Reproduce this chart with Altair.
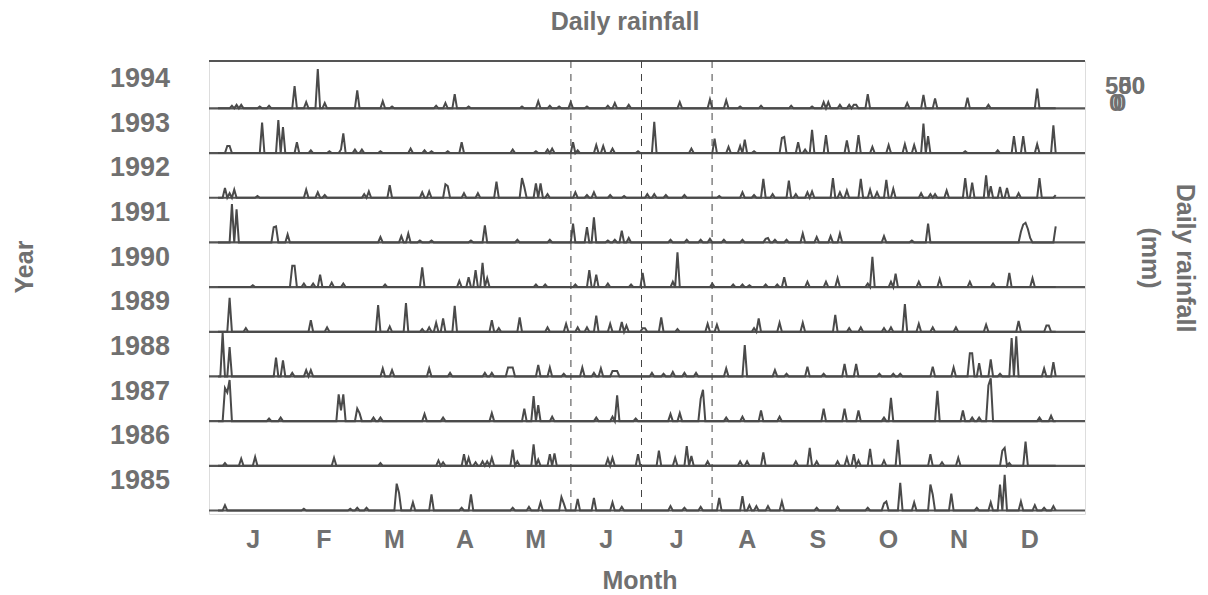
import altair as alt
import pandas as pd

# Daily rainfall (mm) per year, listed as (day of year, mm); unlisted days are dry.
rain_1994 = [(6,3),(8,4),(10,4),(18,2),(22,3),(33,25),(38,7),(43,44),(46,6),(60,20),(71,8),(75,2),
             (94,3),(98,6),(102,16),(108,2),(131,2),(138,8),(143,3),(147,2),(152,7),(159,2),(168,3),
             (171,6),(177,4),(199,7),(212,10),(219,9),(225,2),(234,3),(247,3),(256,2),(261,7),(263,7),
             (268,4),(272,4),(274,4),(275,4),(280,16),(297,6),(304,15),(309,11),(323,12),(332,4),(353,22)]
rain_1993 = [(4,8),(5,8),(19,34),(26,37),(28,29),(34,12),(40,3),(48,2),(53,4),(54,22),(59,4),(62,4),
             (70,2),(83,5),(89,3),(92,2),(99,2),(105,12),(127,4),(137,2),(142,4),(144,5),(153,12),(155,3),
             (163,9),(166,8),(170,5),(181,2),(188,35),(204,5),(214,16),(220,7),(225,8),(227,15),(231,2),
             (243,17),(244,18),(250,12),(253,4),(256,26),(262,20),(271,14),(276,20),(282,7),(289,9),
             (296,10),(300,9),(304,33),(306,19),(322,2),(336,3),(343,19),(347,19),(353,10),(360,31)]
rain_1992 = [(3,11),(5,5),(7,9),(17,2),(38,9),(43,6),(46,3),(63,4),(65,7),(74,14),(88,6),(91,7),(98,15),
             (99,13),(106,5),(112,5),(120,18),(131,22),(132,12),(137,16),(139,16),(142,4),(154,6),(159,3),
             (162,6),(169,3),(175,2),(185,4),(188,4),(193,3),(201,3),(216,2),(226,6),(231,3),(235,21),
             (239,4),(246,19),(249,4),(254,6),(256,7),(265,22),(268,6),(271,8),(277,21),(281,9),(284,6),
             (288,20),(291,10),(303,5),(307,4),(309,4),(314,8),(322,22),(325,17),(331,25),(333,13),
             (337,12),(340,11),(345,5),(354,22),(361,3)]
rain_1991 = [(6,43),(8,37),(24,17),(25,18),(30,9),(70,6),(79,7),(82,10),(87,2),(92,2),(109,2),(115,19),
             (129,3),(143,3),(153,21),(159,17),(162,28),(168,2),(171,3),(174,13),(177,5),(195,3),(202,3),
             (208,3),(212,4),(218,3),(226,3),(236,4),(237,5),(240,3),(245,3),(252,10),(258,6),(264,7),
             (268,10),(287,7),(299,2),(306,21),(346,12),(347,20),(348,22),(349,15),(350,5),(361,18)]
rain_1990 = [(15,2),(32,24),(33,24),(37,4),(41,4),(44,14),(49,5),(54,4),(72,3),(88,22),(104,7),(108,11),
             (111,19),(114,27),(116,10),(137,3),(141,3),(154,3),(160,19),(163,14),(168,4),(178,3),(183,16),
             (196,6),(198,39),(213,4),(222,3),(226,3),(229,2),(236,3),(241,3),(244,11),(254,6),(262,6),
             (267,10),(280,4),(282,34),(290,6),(292,15),(302,6),(311,9),(324,6),(334,4),(341,16),(351,10)]
rain_1989 = [(5,38),(12,4),(40,13),(47,5),(69,30),(74,6),(81,32),(88,3),(91,5),(94,10),(97,15),(102,29),
             (118,13),(121,4),(130,16),(142,5),(150,9),(155,5),(159,5),(163,18),(169,9),(174,11),(176,7),
             (183,4),(184,4),(191,16),(198,3),(211,9),(215,8),(231,4),(233,15),(242,10),(252,10),(266,19),
             (272,4),(277,5),(287,4),(290,5),(296,31),(302,9),(308,5),(318,5),(331,8),(345,12),(357,7),(358,7)]
rain_1988 = [(2,49),(5,33),(25,21),(28,18),(32,4),(38,7),(40,7),(71,9),(75,7),(91,9),(100,4),(115,4),
             (118,4),(125,10),(126,10),(127,10),(138,13),(143,10),(149,3),(157,10),(162,4),(165,9),(170,6),
             (171,6),(172,6),(187,4),(192,3),(196,5),(201,4),(206,4),(219,9),(227,35),(240,7),(245,3),
             (254,11),(261,3),(270,14),(275,14),(285,3),(291,3),(294,3),(308,11),(317,10),(324,26),(325,26),
             (328,15),(333,19),(337,3),(342,43),(344,45),(356,9),(360,16)]
rain_1987 = [(3,37),(4,32),(5,46),(22,3),(27,4),(52,30),(53,12),(54,30),(60,14),(61,9),(67,4),(70,4),
             (89,8),(97,4),(118,9),(132,14),(136,28),(138,18),(144,5),(163,4),(170,5),(172,29),(180,3),
             (195,8),(199,9),(208,25),(209,35),(219,4),(226,5),(234,12),(242,5),(261,14),(270,14),(276,12),
             (287,4),(290,26),(310,34),(321,12),(325,4),(328,4),(332,40),(333,48),(354,4),(359,6)]
rain_1986 = [(3,3),(10,8),(16,10),(50,9),(70,3),(95,6),(97,4),(106,13),(108,9),(111,4),(114,5),(116,5),
             (118,9),(127,18),(129,5),(136,24),(138,7),(143,13),(145,14),(168,8),(170,9),(181,13),(190,17),
             (197,9),(202,22),(204,11),(211,5),(225,5),(228,5),(235,15),(249,5),(255,20),(258,5),(267,5),
             (271,9),(274,13),(276,6),(281,19),(287,6),(293,29),(307,13),(312,4),(319,9),(338,17),(339,20),
             (341,3),(348,27)]
rain_1985 = [(3,6),(37,2),(57,2),(60,3),(64,3),(77,30),(78,20),(84,9),(92,18),(105,3),(109,18),(127,3),
             (134,4),(139,9),(148,15),(149,8),(155,13),(162,14),(170,9),(174,4),(195,5),(201,3),(208,4),
             (216,14),(226,16),(229,6),(232,5),(237,5),(243,10),(258,3),(267,4),(280,3),(287,8),(288,10),
             (294,31),(300,9),(307,29),(308,18),(316,19),(327,3),(333,9),(337,29),(339,40),(346,10),
             (352,6),(356,3),(360,5)]

years = [1985, 1986, 1987, 1988, 1989, 1990, 1991, 1992, 1993, 1994]
series = [rain_1985, rain_1986, rain_1987, rain_1988, rain_1989,
          rain_1990, rain_1991, rain_1992, rain_1993, rain_1994]
months = ["J", "F", "M", "A", "M", "J", "J", "A", "S", "O", "N", "D"]
last_day = 361

MONTH_LEN = 365 / 12
ROW_SPAN = 50          # mm of vertical room given to each year's trace

rows = []
for i, (yr, peaks) in enumerate(zip(years, series)):
    wet = dict(peaks)
    for d in range(0, last_day + 1):
        rows.append({"year": yr, "row": i, "day": d, "rain": wet.get(d, 0)})
daily = pd.DataFrame(rows)

year_df = pd.DataFrame({"year": [str(y) for y in years], "row": list(range(len(years)))})
month_df = pd.DataFrame({"m": months, "k": list(range(12))})
dash_df = pd.DataFrame({"k": [5, 6, 7]})

W, H = 876, 453
GREY = "#555555"
TXT = "#707070"
FONT = "Liberation Sans"

xs = alt.Scale(domain=[-3.88, 373.62], nice=False, zero=False)
ys = alt.Scale(domain=[-3.9, 503], nice=False, zero=False)

traces = alt.Chart(daily).transform_calculate(
    level=f"datum.row * {ROW_SPAN} + datum.rain"
).mark_line(color="#4a4a4a", strokeWidth=2, interpolate="linear").encode(
    x=alt.X("day:Q", scale=xs,
            axis=alt.Axis(values=[k * MONTH_LEN for k in range(13)], labels=False, title=None,
                          grid=False, tickSize=7, tickWidth=2, tickColor=GREY,
                          domainWidth=4, domainColor=GREY)),
    y=alt.Y("level:Q", scale=ys,
            axis=alt.Axis(values=[r * ROW_SPAN for r in range(10)], labels=False, title=None,
                          grid=False, tickSize=8, tickWidth=2, tickColor=GREY,
                          domainWidth=7, domainColor=GREY)),
    detail="year:N",
)

baselines = alt.Chart(year_df).transform_calculate(
    base=f"datum.row * {ROW_SPAN}"
).mark_rule(color=GREY, strokeWidth=2.2).encode(
    y=alt.Y("base:Q", scale=ys, axis=None),
    x=alt.value(0), x2=alt.value(W),
)

top_line = alt.Chart(pd.DataFrame({"t": [0]})).mark_rule(color=GREY, strokeWidth=2.2).encode(
    y=alt.value(0), x=alt.value(0), x2=alt.value(W)
)

dashes = alt.Chart(dash_df).transform_calculate(
    pos=f"datum.k * {MONTH_LEN}"
).mark_rule(color="#444444", strokeWidth=1, strokeDash=[7, 6]).encode(
    x=alt.X("pos:Q", scale=xs, axis=None),
    y=alt.value(0), y2=alt.value(449),
)

year_labels = alt.Chart(year_df).transform_calculate(
    ly=f"datum.row * {ROW_SPAN} + 33"
).mark_text(font=FONT, fontSize=27, fontWeight="bold", color=TXT, align="center",
            baseline="middle").encode(
    y=alt.Y("ly:Q", scale=ys, axis=None),
    x=alt.value(-69),
    text="year:N",
)

month_labels = alt.Chart(month_df).transform_calculate(
    mid=f"(datum.k + 0.5) * {MONTH_LEN}"
).mark_text(font=FONT, fontSize=25, fontWeight="bold", color=TXT, align="center",
            baseline="middle").encode(
    x=alt.X("mid:Q", scale=xs, axis=None),
    y=alt.value(479),
    text="m:N",
)


def label(txt, x, y, angle=0, align="center", size=25):
    return alt.Chart(pd.DataFrame({"t": [txt]})).mark_text(
        font=FONT, fontSize=size, fontWeight="bold", color=TXT, align=align,
        baseline="middle", angle=angle
    ).encode(x=alt.value(x), y=alt.value(y), text="t:N")


texts = [
    label("Daily rainfall", 416, -39),
    label("Month", 431, 520),
    label("Year", -184, 206, angle=270),
    label("Daily rainfall", 976, 197, angle=90),
    label("(mm)", 941, 197, angle=90),
    label("500", 936, 26, align="right", size=24),
    label("50", 936, 26, align="right", size=24),
    label("0", 900, 43, align="left", size=24),
    label("0", 904, 43, align="left", size=24),
]

chart = alt.layer(
    baselines, top_line, dashes, traces, year_labels, month_labels, *texts
).properties(
    width=W, height=H,
    autosize=alt.AutoSizeParams(type="none"),
    padding={"left": 209, "top": 61, "right": 123, "bottom": 81},
).configure_view(stroke=None).configure(background="white")

chart.save("out.html", embed_options={"renderer": "svg", "actions": False})
